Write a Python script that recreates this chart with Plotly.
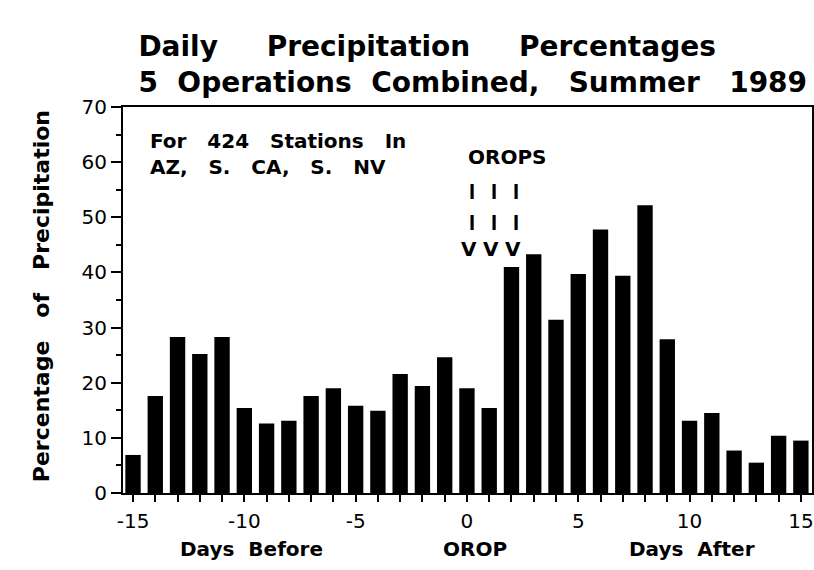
import plotly.graph_objects as go

days = list(range(-15, 16))
pct = [6.9, 17.6, 28.3, 25.2, 28.3, 15.4, 12.6, 13.1, 17.6, 19.0, 15.8,
       14.9, 21.6, 19.4, 24.6, 19.0, 15.4, 41.0, 43.3, 31.4, 39.7, 47.8,
       39.4, 52.2, 27.9, 13.1, 14.5, 7.7, 5.5, 10.4, 9.5]
xtick_vals = [-15, -10, -5, 0, 5, 10, 15]
xtick_text = ['-15', '-10', '-5', '0', '5', '10', '15']
ytick_vals = [0, 10, 20, 30, 40, 50, 60, 70]


def gap(n):
    return '\u00a0' * n


font = 'DejaVu Sans, Arial, sans-serif'
blk = 'black'

fig = go.Figure()
fig.add_trace(go.Bar(x=days, y=pct, marker_color=blk, marker_line_width=0))

# OROPS markers over days 0, 1, 2
orop_days = [0, 1, 2]
for d in orop_days:
    for yy, ch in [(54.6, 'I'), (49.1, 'I')]:
        fig.add_annotation(x=d + 0.22, y=yy, text=f'<b>{ch}</b>', showarrow=False,
                           font=dict(size=22, family='Liberation Sans', color=blk))
    fig.add_annotation(x=d + 0.08, y=44.3, text='<b>V</b>', showarrow=False,
                       font=dict(size=20, family=font, color=blk))
fig.add_annotation(x=1.8, y=60.9, text='<b>OROPS</b>', showarrow=False,
                   font=dict(size=20, family=font, color=blk))

fig.add_annotation(xref='paper', yref='paper', x=0.036, y=0.949, xanchor='left', yanchor='top',
                   align='left', showarrow=False,
                   text=f'<b>For{gap(3)}424{gap(3)}Stations{gap(3)}In<br>'
                        f'AZ,{gap(3)}S.{gap(3)}CA,{gap(3)}S.{gap(3)}NV</b>',
                   font=dict(size=20, family=font, color=blk))

for xx, txt in [(-9.7, 'Days' + gap(2) + 'Before'), (0.35, 'OROP'), (10.1, 'Days' + gap(2) + 'After')]:
    fig.add_annotation(x=xx, xref='x', yref='paper', y=-0.182, text=f'<b>{txt}</b>',
                       showarrow=False, font=dict(size=20, family=font, color=blk))

fig.add_annotation(xref='paper', yref='paper', x=-0.14, y=0.51, textangle=-90,
                   text=f'<b>Percentage{gap(3)}of{gap(3)}Precipitation</b>', showarrow=False,
                   font=dict(size=22, family=font, color=blk))

fig.update_layout(
    width=814, height=570,
    margin=dict(l=123, r=2, t=107, b=77, autoexpand=False),
    paper_bgcolor='white', plot_bgcolor='white',
    bargap=0.31, showlegend=False,
    title=dict(text=f'<b>Daily{gap(5)}Precipitation{gap(5)}Percentages<br>'
                    f'5{gap(2)}Operations{gap(2)}Combined,{gap(3)}Summer{gap(3)}1989</b>',
               xref='container', yref='container', x=0.17, y=0.902,
               xanchor='left', yanchor='top',
               font=dict(size=28, family=font, color=blk)),
    font=dict(family=font, color=blk),
)
fig.update_xaxes(range=[-15.45, 15.5], tickvals=xtick_vals, ticktext=xtick_text,
                 ticks='outside', ticklen=7, tickwidth=2, tickcolor=blk, ticklabelstandoff=2,
                 minor=dict(dtick=1, tick0=0, ticks='outside', ticklen=7, tickwidth=2, tickcolor=blk),
                 showline=True, linewidth=2, linecolor=blk, mirror=True, automargin=False,
                 showgrid=False, zeroline=False, tickfont=dict(size=20))
fig.update_yaxes(range=[0, 70], tickvals=ytick_vals,
                 ticks='outside', ticklen=10, tickwidth=2, tickcolor=blk,
                 minor=dict(dtick=5, tick0=0, ticks='outside', ticklen=5, tickwidth=2, tickcolor=blk),
                 showline=True, linewidth=2, linecolor=blk, mirror=True, automargin=False,
                 showgrid=False, zeroline=False, tickfont=dict(size=20))

# the page's default body margin would shift the 814x570 figure by 8px
fig.write_html('out.html', config={'displayModeBar': False},
               post_script="document.body.style.margin='0';")
